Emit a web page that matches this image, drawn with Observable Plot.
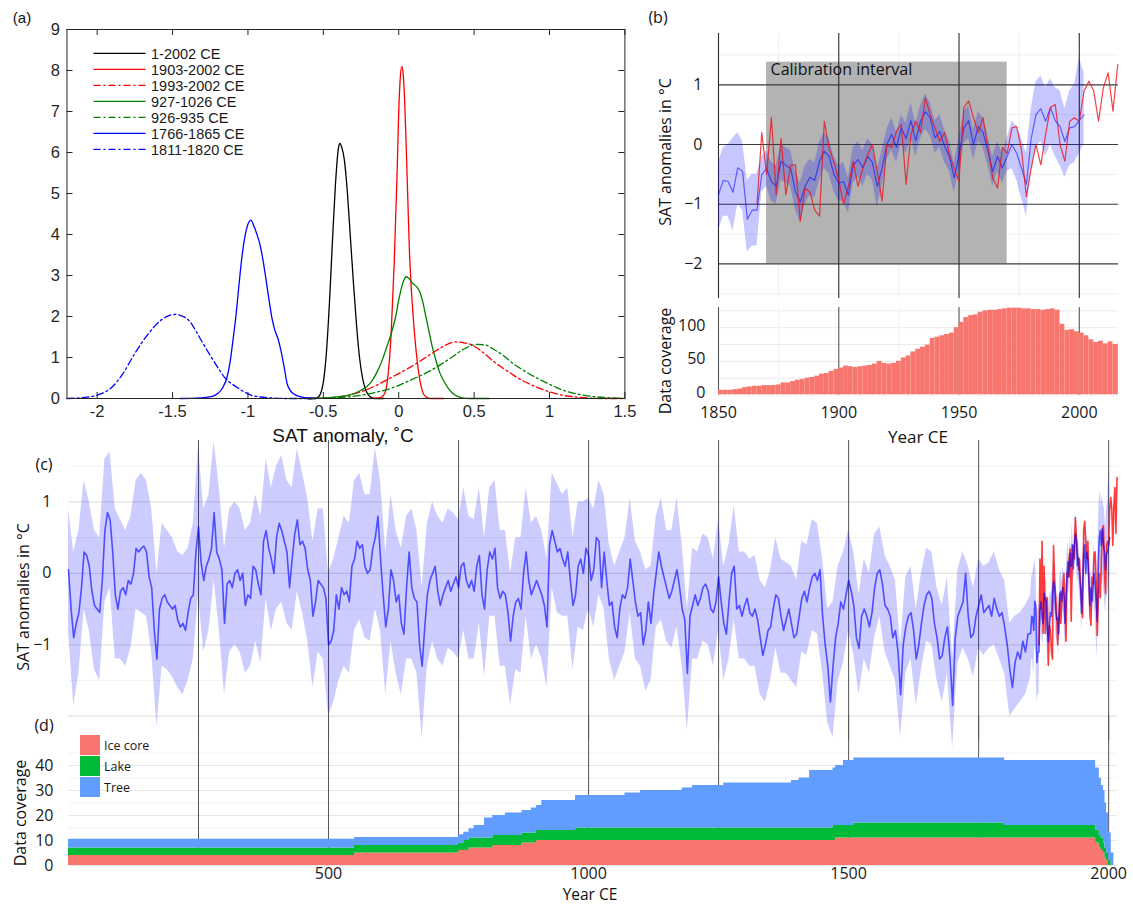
<!DOCTYPE html>
<html><head><meta charset="utf-8">
<script src="https://cdn.jsdelivr.net/npm/d3@7"></script>
<script src="https://cdn.jsdelivr.net/npm/@observablehq/plot@0.6"></script>
<style>
body{margin:0;background:#fff;}
#wrap{position:relative;width:1133px;height:905px;overflow:hidden;background:#fff;}
.lbl{position:absolute;white-space:nowrap;transform:translate(-50%,-50%);font-family:"Open Sans";color:#111;line-height:1;}
.rot{transform:translate(-50%,-50%) rotate(-90deg);}
</style></head><body><div id="wrap"></div>
<script>
// ---------------- Panel (a): density curves ----------------
const aTicksX = [-2, -1.5, -1, -0.5, 0, 0.5, 1, 1.5];
const aTicksY = [0, 1, 2, 3, 4, 5, 6, 7, 8, 9];
const aLabels = ["1-2002 CE", "1903-2002 CE", "1993-2002 CE", "927-1026 CE", "926-935 CE", "1766-1865 CE", "1811-1820 CE"];
const aBlack = [[-0.6,0],[-0.56,0],[-0.53,0.05],[-0.5,0.4],[-0.48,1.1],[-0.46,2.3],[-0.44,3.8],[-0.42,5.2],[-0.40,6.1],[-0.39,6.22],[-0.38,6.15],[-0.36,5.8],[-0.34,5.0],[-0.32,3.9],[-0.30,2.8],[-0.28,1.8],[-0.26,1.0],[-0.24,0.5],[-0.22,0.22],[-0.20,0.08],[-0.18,0.02],[-0.16,0],[-0.1,0]];
const aRed = [[-0.2,0],[-0.12,0.02],[-0.09,0.15],[-0.07,0.6],[-0.05,1.6],[-0.03,3.3],[-0.01,5.6],[0.0,7.0],[0.01,7.8],[0.02,8.1],[0.03,7.9],[0.04,7.2],[0.05,6.1],[0.06,4.9],[0.07,3.7],[0.08,2.9],[0.09,2.3],[0.10,1.8],[0.12,1.0],[0.14,0.45],[0.16,0.15],[0.18,0.04],[0.21,0],[0.3,0]];
const aRedDash = [[-0.6,0],[-0.45,0.02],[-0.33,0.08],[-0.19,0.25],[-0.03,0.55],[0.08,0.77],[0.22,1.1],[0.3,1.28],[0.37,1.38],[0.43,1.36],[0.49,1.3],[0.56,1.12],[0.63,0.9],[0.7,0.72],[0.76,0.57],[0.83,0.42],[0.9,0.3],[0.97,0.2],[1.04,0.12],[1.1,0.07],[1.17,0.04],[1.25,0.015],[1.35,0],[1.5,0]];
const aGreen = [[-0.6,0],[-0.46,0.02],[-0.33,0.08],[-0.25,0.2],[-0.19,0.37],[-0.15,0.6],[-0.11,0.93],[-0.08,1.25],[-0.05,1.58],[-0.02,2.0],[0.0,2.4],[0.03,2.85],[0.05,2.97],[0.07,2.92],[0.09,2.82],[0.12,2.72],[0.14,2.6],[0.16,2.35],[0.18,2.0],[0.2,1.65],[0.22,1.3],[0.245,0.95],[0.27,0.65],[0.3,0.42],[0.33,0.24],[0.36,0.12],[0.39,0.05],[0.43,0.01],[0.47,0],[0.6,0]];
const aGreenDash = [[-0.6,0],[-0.45,0.015],[-0.33,0.04],[-0.19,0.12],[-0.05,0.25],[0.08,0.45],[0.22,0.7],[0.35,1.0],[0.44,1.22],[0.52,1.32],[0.58,1.3],[0.63,1.2],[0.7,1.03],[0.76,0.85],[0.83,0.68],[0.9,0.53],[0.97,0.4],[1.04,0.28],[1.1,0.19],[1.17,0.12],[1.24,0.07],[1.31,0.04],[1.38,0.02],[1.45,0.01],[1.5,0]];
const aBlue = [[-1.45,0],[-1.35,0.01],[-1.28,0.03],[-1.23,0.06],[-1.2,0.12],[-1.17,0.25],[-1.14,0.5],[-1.12,0.85],[-1.1,1.4],[-1.08,2.0],[-1.06,2.75],[-1.04,3.45],[-1.02,3.95],[-1.0,4.25],[-0.98,4.35],[-0.96,4.2],[-0.94,4.0],[-0.92,3.75],[-0.9,3.37],[-0.88,2.9],[-0.86,2.4],[-0.84,1.95],[-0.82,1.65],[-0.8,1.45],[-0.78,1.15],[-0.76,0.77],[-0.74,0.36],[-0.72,0.2],[-0.7,0.12],[-0.66,0.05],[-0.62,0.02],[-0.55,0]];
const aBlueDash = [[-2.2,0],[-2.1,0.02],[-2.0,0.08],[-1.91,0.25],[-1.83,0.6],[-1.75,1.1],[-1.66,1.58],[-1.58,1.9],[-1.52,2.03],[-1.48,2.05],[-1.43,2.0],[-1.39,1.9],[-1.35,1.68],[-1.31,1.42],[-1.27,1.17],[-1.23,0.93],[-1.19,0.7],[-1.15,0.49],[-1.1,0.34],[-1.06,0.24],[-1.02,0.15],[-0.98,0.08],[-0.92,0.04],[-0.87,0.02],[-0.75,0],[-0.55,0]];
const aColors = ["#000000", "#ff0000", "#ff0000", "#008000", "#008000", "#0000ff", "#0000ff"];
const aSolid = [true, true, false, true, false, true, false];

// ---------------- Panel (b) ----------------
const calibration = {start: 1870, end: 1970, bottom: -2, top: 1.38, label: "Calibration interval"};
const bTicksY = [-2, -1, 0, 1];
const bMinorY = [-2.5, -1.5, -0.5, 0.5, 1.5];
const bTicksX = [1850, 1900, 1950, 2000];
const bMinorX = [1875, 1925, 1975];
// blue reconstruction 1850..2002, every 2 years
const bMean = [-0.84,-0.6,-0.62,-0.8,-0.39,-0.45,-1.25,-1.1,-1.1,-0.5,
 -0.4,-0.62,-0.7,-0.28,-0.35,-0.4,-0.79,-0.96,-0.7,-0.55,
 -0.6,-0.28,-0.11,-0.2,-0.5,-0.65,-0.62,-0.85,-0.35,-0.25,
 -0.39,-0.2,-0.3,-0.7,-0.4,0.0,0.17,-0.05,0.28,0.1,
 0.4,0.06,0.39,0.55,0.45,0.11,0.22,-0.03,-0.2,-0.56,
 -0.17,0.28,0.4,0.0,0.3,0.2,-0.1,-0.45,-0.2,-0.39,
 -0.2,0.0,-0.15,-0.4,-0.67,0.1,0.5,0.6,0.39,0.62,
 0.4,0.3,0.05,0.28,0.3,0.4,0.5];
const bUpper = [-0.3,-0.05,0.0,0.1,0.2,0.05,-0.6,-0.5,-0.5,-0.2,
 -0.1,-0.3,-0.35,0.0,-0.05,-0.1,-0.45,-0.65,-0.35,-0.25,
 -0.3,0.05,0.2,0.1,-0.2,-0.35,-0.3,-0.55,-0.05,0.05,
 -0.1,0.1,0.0,-0.4,-0.1,0.25,0.45,0.2,0.5,0.35,
 0.7,0.35,0.65,0.85,0.7,0.4,0.5,0.25,0.05,-0.3,
 0.1,0.55,0.65,0.25,0.55,0.45,0.15,-0.2,0.05,-0.15,
 0.1,0.4,0.3,0.1,-0.15,0.6,1.05,1.15,0.95,1.1,
 0.95,0.9,0.6,0.9,1.0,1.45,1.2];
const bLower = [-1.45,-1.2,-1.2,-1.45,-1.0,-1.1,-1.8,-1.7,-1.7,-0.8,
 -0.7,-0.95,-1.0,-0.6,-0.65,-0.7,-1.1,-1.3,-1.0,-0.85,
 -0.9,-0.6,-0.4,-0.5,-0.8,-0.95,-0.95,-1.15,-0.65,-0.55,
 -0.7,-0.5,-0.6,-1.05,-0.7,-0.25,-0.1,-0.3,0.0,-0.15,
 0.1,-0.2,0.1,0.25,0.15,-0.15,-0.05,-0.3,-0.45,-0.8,
 -0.45,0.0,0.1,-0.25,0.05,-0.05,-0.35,-0.7,-0.45,-0.65,
 -0.45,-0.4,-0.6,-0.9,-1.2,-0.45,-0.05,0.05,-0.2,0.0,
 -0.2,-0.35,-0.55,-0.35,-0.3,-0.15,0.0];
// instrumental (red) 1866..2016, every 2 years
const rVals = [-1.0,0.2,-0.5,0.45,-0.84,0.1,-0.84,-0.35,-0.34,-1.29,
 -0.73,-0.8,-1.1,-1.2,0.39,-0.06,-0.3,-0.6,-1.0,-0.7,
 -0.28,-0.7,-0.4,-0.17,0.0,-0.45,-0.95,0.0,-0.05,0.22,
 0.34,-0.67,0.17,0.39,0.2,0.78,0.5,0.28,0.05,0.2,
 -0.17,-0.4,-0.62,0.62,0.73,0.45,0.2,0.45,-0.05,-0.56,
 -0.73,-0.05,-0.15,0.28,0.3,-0.1,-0.87,-0.4,0.0,-0.34,
 0.17,0.62,0.67,0.0,-0.28,0.39,0.45,0.39,0.9,1.06,
 0.9,0.39,0.95,1.2,0.56,1.34];
// data coverage 1850..2016, every 2 years
const covCount = [7,7,7,8,9,11,12,13,13,14,
 14,14,15,18,18,20,22,23,25,26,
 28,31,32,35,38,40,43,42,41,42,
 43,44,46,50,47,46,47,50,55,58,
 64,68,71,74,84,86,88,90,92,100,
 108,115,118,119,123,125,126,126,127,128,
 129,129,129,128,128,127,127,126,127,128,
 126,105,96,97,94,92,88,82,78,80,
 76,79,75,76];

// ---------------- Panel (c): 0..1845 every 5 years ----------------
const cMean = [0.05,-0.5,-0.9,-0.7,-0.55,-0.2,0.3,0.25,0.1,-0.25,
 -0.45,-0.5,-0.55,-0.1,0.6,0.85,0.75,0.3,-0.3,-0.5,
 -0.25,-0.2,-0.3,-0.1,-0.15,0.0,0.35,0.3,0.35,0.38,
 0.3,-0.05,-0.2,-0.8,-1.2,-0.5,-0.35,-0.3,-0.4,-0.45,
 -0.5,-0.45,-0.65,-0.75,-0.7,-0.8,-0.55,-0.35,-0.3,0.3,
 0.65,0.15,-0.1,0.1,0.2,0.35,0.85,0.3,0.2,0.05,
 -0.7,-0.15,-0.1,-0.2,0.0,0.05,-0.1,0.0,-0.45,-0.3,
 -0.35,0.1,0.05,-0.15,-0.3,0.45,0.6,0.35,0.2,0.0,
 0.5,0.7,0.6,0.45,0.3,-0.2,0.2,0.55,0.75,0.4,
 0.45,0.35,0.05,-0.1,-0.6,-0.4,-0.1,-0.15,-0.2,-0.35,
 -1.0,-0.95,-0.8,-0.3,-0.5,-0.2,-0.3,-0.25,-0.4,0.1,
 0.2,0.45,0.35,0.4,0.1,0.0,0.05,0.35,0.5,0.8,
 0.2,-0.3,-0.75,-0.5,0.05,-0.1,-0.4,-0.3,-0.7,-0.85,
 -0.2,0.3,-0.2,-0.35,-0.4,-1.0,-1.3,-0.75,-0.3,-0.1,
 0.0,0.1,-0.25,-0.45,-0.3,-0.2,-0.1,-0.25,-0.15,-0.05,
 -0.2,0.1,0.15,-0.1,-0.2,-0.1,-0.25,0.1,0.25,-0.3,
 -0.5,0.05,0.3,0.2,0.35,-0.2,-0.35,-0.25,-0.3,-0.55,
 -0.95,-0.6,-0.4,-0.35,-0.5,0.0,0.3,-0.1,-0.3,-0.2,
 -0.1,-0.2,-0.3,-0.45,-0.75,0.4,0.6,0.45,0.3,0.35,
 0.2,0.1,0.3,-0.1,-0.45,-0.3,0.1,0.2,0.0,0.35,
 0.25,-0.1,0.05,0.5,0.45,-0.2,0.3,-0.1,-0.45,-0.4,
 -0.75,-0.9,-0.5,-0.3,-0.35,-0.2,0.2,-0.1,-0.4,-0.6,
 -0.55,-1.0,-0.8,-0.4,-0.7,-0.3,0.0,0.3,0.1,-0.05,
 -0.2,-0.35,-0.25,-0.1,0.05,-0.2,-0.5,-0.65,-1.4,-0.6,
 -0.45,-0.3,-0.45,-0.35,-0.2,-0.15,-0.25,-0.5,-0.55,-0.4,
 -0.05,-0.4,-0.7,-0.85,-0.4,0.0,0.1,-0.5,-0.45,-0.6,
 -0.45,-0.35,-0.55,-0.6,-0.5,-0.65,-0.9,-1.15,-1.0,-0.8,
 -0.75,-0.5,-0.3,-0.35,-0.6,-0.8,-0.65,-0.5,-0.7,-0.9,
 -0.85,-0.6,-0.35,-0.25,-0.4,-0.2,-0.05,0.0,-0.1,0.05,
 -0.6,-1.0,-1.3,-1.8,-1.3,-0.9,-0.7,-0.4,-0.5,-0.3,
 -0.1,-0.25,-0.45,-0.9,-1.05,-0.6,-0.5,-0.6,-0.75,-0.55,
 -0.2,0.0,0.05,-0.15,-0.45,-0.5,-0.6,-0.9,-0.8,-1.1,
 -1.7,-1.0,-0.75,-0.6,-0.55,-0.8,-1.2,-1.0,-0.7,-0.45,
 -0.3,-0.25,-0.35,-0.7,-0.9,-1.2,-1.15,-0.9,-0.75,-1.2,
 -1.85,-0.9,-0.6,-0.5,-0.4,0.0,-0.6,-0.9,-0.85,-0.6,
 -0.45,-0.3,-0.55,-0.5,-0.45,-0.6,-0.35,-0.5,-0.6,-0.55,
 -0.75,-1.0,-1.35,-1.6,-1.25,-1.1,-1.2,-0.95,-1.1,-0.85];
// uncertainty band 0..1840 every 10 years
const cUpper = [0.9,0.3,0.6,1.3,1.0,0.6,0.5,1.6,1.7,0.9,
 0.75,0.6,0.8,1.3,1.4,1.3,0.9,0.0,0.7,0.6,
 0.5,0.3,0.25,0.35,0.7,1.8,0.9,1.1,1.85,1.2,
 0.35,0.9,1.0,0.9,0.6,0.7,1.1,0.8,1.6,1.2,
 1.5,1.65,1.3,1.2,1.75,1.4,1.05,0.45,0.9,0.9,
 0.0,0.2,0.5,0.8,0.7,1.3,1.4,1.1,1.1,1.75,
 1.3,0.3,1.1,0.6,0.35,0.8,0.9,0.6,-0.2,0.7,
 1.0,0.8,0.7,0.9,0.85,0.75,1.2,0.8,0.75,1.2,
 0.5,1.2,1.3,0.6,0.6,0.0,0.5,0.5,1.2,0.7,
 0.8,0.6,0.2,1.4,1.25,1.1,1.2,0.5,1.0,1.0,
 1.05,0.9,1.3,1.1,0.4,0.1,0.3,0.5,1.05,0.45,
 0.3,0.05,0.1,0.8,1.05,0.6,0.6,1.05,0.4,-0.5,
 0.35,0.3,0.55,0.5,0.2,0.75,0.1,0.4,0.95,0.3,
 0.3,0.2,0.25,-0.1,-0.2,0.05,0.5,0.2,0.15,0.1,
 -0.1,0.45,0.4,0.75,0.7,0.2,-0.5,-0.4,0.1,0.3,
 0.6,0.3,-0.3,0.2,0.0,0.55,0.65,0.25,0.1,-0.1,
 -1.0,-0.05,0.1,-0.5,0.0,0.35,0.3,-0.2,-0.45,-0.05,
 -1.2,0.05,0.3,0.1,-0.2,0.2,0.1,0.15,0.3,0.05,
 -0.1,-0.7,-0.6,-0.55,-0.45];
const cLower = [-0.8,-1.85,-1.4,-0.5,-0.8,-1.35,-1.5,-0.4,-0.2,-1.2,
 -1.2,-1.3,-1.05,-0.5,-0.55,-0.6,-1.1,-2.15,-1.3,-1.35,
 -1.45,-1.6,-1.7,-1.5,-1.2,-0.3,-1.1,-0.8,-0.1,-0.8,
 -1.7,-1.1,-1.0,-1.1,-1.4,-1.3,-0.95,-1.25,-0.35,-0.8,
 -0.5,-0.4,-0.7,-0.8,-0.25,-0.55,-0.95,-1.6,-1.1,-1.2,
 -2.0,-1.8,-1.5,-1.3,-1.4,-0.8,-0.65,-0.9,-0.95,-0.5,
 -0.8,-1.7,-0.95,-1.4,-1.7,-1.2,-1.2,-1.4,-2.3,-1.3,
 -0.95,-1.2,-1.3,-1.05,-1.1,-1.2,-0.8,-1.2,-1.2,-0.7,
 -1.45,-0.6,-0.6,-1.3,-1.3,-1.85,-1.35,-1.4,-0.6,-1.2,
 -1.0,-1.2,-1.6,-0.2,-0.55,-0.6,-0.6,-1.35,-0.75,-0.8,
 -0.5,-0.75,-0.3,-0.5,-1.2,-1.5,-1.3,-1.1,-0.55,-1.2,
 -1.3,-1.65,-1.5,-0.75,-0.65,-0.95,-1.05,-0.75,-1.3,-2.2,
 -1.2,-1.2,-0.95,-1.0,-1.3,-0.8,-1.5,-1.2,-0.65,-1.2,
 -1.2,-1.3,-1.3,-1.7,-1.8,-1.5,-1.05,-1.4,-1.4,-1.5,
 -1.6,-1.1,-1.15,-0.8,-0.85,-1.4,-2.1,-2.3,-1.5,-1.25,
 -0.8,-1.15,-1.7,-1.2,-1.4,-0.9,-0.6,-1.1,-1.3,-1.5,
 -2.3,-1.4,-1.2,-1.85,-1.35,-0.95,-1.0,-1.5,-1.8,-1.4,
 -2.45,-1.25,-1.05,-1.2,-1.45,-1.05,-1.15,-1.05,-1.0,-1.2,
 -1.4,-2.0,-1.9,-1.8,-1.7];
const cTicksY = [-1, 0, 1];
const cMajorY = [-2, -1, 0, 1];
const cMinorY = [-1.5, -0.5, 0.5, 1.5];
const cRules = [250, 500, 750, 1000, 1250, 1500, 1750, 2000];

// ---------------- Panel (d): stacked data coverage ----------------
const dTypes = ["Ice core", "Lake", "Tree"];
const dColors = ["#f8766d", "#00ba38", "#619cff"];
const dYears = [0,550,750,760,770,780,800,816,840,872,890,900,910,975,1070,1100,1180,1200,1260,1390,1405,1425,1470,1475,1490,1510,1800,1975,1982,1986,1990,1993,1996,2000,2005,2010];
const dIce  = [4,5,6,6,7,7,7,8,8,9,9,10,10,10,10,10,10,10,10,10,10,10,10,11,11,11,11,9,7,6,5,3,2,0,0,0];
const dLake = [3,3,3,4,4,4,4,4,4,4,4,4,4,5,5,5,5,5,5,5,5,5,6,5,5,6,5,5,5,5,4,4,3,2,0,0];
const dTree = [3.5,3.2,3.3,3.3,3.7,5,8,8,9,9,10,10,12,13,14,15,16,17,18,19,20,23,23,24,26,26,26,25,23,21,21,18,16,11,5,0];
const dTicksY = [0, 10, 20, 30, 40];
const dMinorY = [5, 15, 25, 35, 45];
const dTicksX = [500, 1000, 1500, 2000];

// ================= drawing =================
const wrap = document.getElementById("wrap");
const fmtMinus = d => d < 0 ? "\u2212" + Math.abs(d) : String(d);
function place(el, left, top) {
  el.style.position = "absolute"; el.style.left = left + "px"; el.style.top = top + "px";
  wrap.appendChild(el);
}
function label(text, x, y, size, opts = {}) {
  const d = document.createElement("div");
  d.className = "lbl" + (opts.rot ? " rot" : "");
  d.textContent = text;
  d.style.left = x + "px"; d.style.top = y + "px"; d.style.fontSize = size + "px";
  if (opts.font) d.style.fontFamily = opts.font;
  wrap.appendChild(d);
}
const baseStyle = (font, size) => ({fontFamily: font, fontSize: size + "px", color: "#1a1a1a", background: "transparent", overflow: "visible"});

// ---- (a)
const aW = 640, aH = 450, aML = 66.5, aMR = 15.6, aMT = 29, aMB = 52;
const aIW = aW - aML - aMR, aIH = aH - aMT - aMB;
const aCurves = [aBlack, aRed, aRedDash, aGreen, aGreenDash, aBlue, aBlueDash];
const dashDot = "7,3,2,3";
const svgA = Plot.plot({
  width: aW, height: aH, marginLeft: aML, marginRight: aMR, marginTop: aMT, marginBottom: aMB,
  x: {domain: [-2.2, 1.5]}, y: {domain: [0, 9]},
  style: baseStyle("Liberation Sans", 16),
  marks: [
    ...aCurves.map((pts, i) => Plot.line(pts, {x: d => d[0], y: d => d[1], stroke: aColors[i], strokeWidth: 1.3, curve: "monotone-x", ...(aSolid[i] ? {} : {strokeDasharray: dashDot})})),
    Plot.frame({stroke: "#262626"}),
    Plot.ruleX(aTicksX, {x: d => d, insetTop: aIH - 6, stroke: "#262626"}),
    Plot.ruleX(aTicksX, {x: d => d, insetBottom: aIH - 6, stroke: "#262626"}),
    Plot.ruleY(aTicksY, {y: d => d, insetRight: aIW - 6, stroke: "#262626"}),
    Plot.ruleY(aTicksY, {y: d => d, insetLeft: aIW - 6, stroke: "#262626"}),
    Plot.axisX(aTicksX, {tickSize: 0, tickPadding: 7, label: null, tickFormat: d => String(d), fontSize: 16.5, fill: "#262626"}),
    Plot.axisY(aTicksY, {tickSize: 0, tickPadding: 7, label: null, fontSize: 16.5, fill: "#262626"})
  ]
});
const lg = d3.select(svgA).append("g").attr("font-family", "Liberation Sans").attr("font-size", 14.5).attr("text-anchor", "start");
aCurves.forEach((pts, i) => {
  const y = 53.3 + i * 16;
  lg.append("line").attr("x1", 93.5).attr("x2", 145.5).attr("y1", y).attr("y2", y)
    .attr("stroke", aColors[i]).attr("stroke-width", 1.3).attr("stroke-dasharray", aSolid[i] ? null : dashDot);
  lg.append("text").attr("x", 151).attr("y", y).attr("dy", "0.36em").attr("text-anchor", "start").attr("fill", "#1a1a1a").text(aLabels[i]);
});
place(svgA, 0, 0);

// ---- (b) top
const bYears = d3.range(1850, 2003, 2);
const rYears = d3.range(1866, 2017, 2);
const covYears = d3.range(1850, 2017, 2);
const bIdx = d3.range(bYears.length), rIdx = d3.range(rYears.length);
const svgB = Plot.plot({
  width: 493, height: 300, marginLeft: 78, marginRight: 15, marginTop: 33, marginBottom: 2,
  x: {domain: [1850, 2016.3], axis: null}, y: {domain: [-2.58, 1.86]},
  style: baseStyle("Open Sans", 16),
  marks: [
    Plot.ruleY(bMinorY, {y: d => d, stroke: "#eeeeee"}),
    Plot.ruleX(bMinorX, {x: d => d, stroke: "#eeeeee"}),
    Plot.rect([calibration], {x1: "start", x2: "end", y1: "bottom", y2: "top", fill: "#b3b3b3"}),
    Plot.ruleY(bTicksY, {y: d => d, stroke: "#3a3a3a", strokeWidth: 1.1}),
    Plot.ruleX(bTicksX, {x: d => d, stroke: "#2a2a2a", strokeWidth: 1.1}),
    Plot.areaY(bIdx, {x: i => bYears[i], y1: i => bLower[i], y2: i => bUpper[i], fill: "#0000ff", fillOpacity: 0.22}),
    Plot.line(bIdx, {x: i => bYears[i], y: i => bMean[i], stroke: "#0000ff", strokeOpacity: 0.55, strokeWidth: 1.2}),
    Plot.line(rIdx, {x: i => rYears[i], y: i => rVals[i], stroke: "#e8141c", strokeOpacity: 0.8, strokeWidth: 1.2}),
    Plot.text([calibration], {x: "start", y: "top", text: "label", textAnchor: "start", lineAnchor: "top", dx: 4, dy: 1, fontSize: 16, fill: "#111"}),
    Plot.axisY(bTicksY, {tickSize: 0, tickPadding: 16, label: null, tickFormat: fmtMinus, fontSize: 16, fill: "#1a1a1a"})
  ]
});
place(svgB, 640, 0);

// ---- (b) bottom
const covIdx = d3.range(covYears.length);
const svgB2 = Plot.plot({
  width: 493, height: 145, marginLeft: 78, marginRight: 15, marginTop: 7, marginBottom: 50.5,
  x: {domain: [1850, 2016.3]}, y: {domain: [0, 130]},
  style: baseStyle("Open Sans", 16),
  marks: [
    Plot.ruleY([0, 25, 50, 75, 100, 125], {y: d => d, stroke: "#ebebeb"}),
    Plot.ruleX(bMinorX, {x: d => d, stroke: "#f0f0f0"}),
    Plot.ruleX(bTicksX, {x: d => d, stroke: "#555", strokeWidth: 1.1}),
    Plot.rectY(covIdx, {x1: i => covYears[i], x2: i => covYears[i] + 2, y: i => covCount[i], fill: "#f8766d", clip: true}),
    Plot.axisY([0, 50, 100], {tickSize: 0, tickPadding: 13, label: null, fontSize: 16, fill: "#1a1a1a", dy: -2}),
    Plot.axisX(bTicksX, {tickSize: 0, tickPadding: 12, label: null, tickFormat: d => String(d), fontSize: 16, fill: "#1a1a1a"})
  ]
});
place(svgB2, 640, 300);

// ---- (c)
const cYears = d3.range(0, 1850, 5);
const cBandYears = d3.range(0, 1850, 10);
const cMeanPts = cYears.map((y, i) => [y, cMean[i]]).concat(bYears.map((y, i) => [y, bMean[i]]));
const cBandPts = cBandYears.map((y, i) => [y, cLower[i], cUpper[i]]).concat(bYears.map((y, i) => [y, bLower[i], bUpper[i]]));
const svgC = Plot.plot({
  width: 1133, height: 300, marginLeft: 68, marginRight: 16, marginTop: 0, marginBottom: 0,
  x: {domain: [0, 2017], axis: null}, y: {domain: [-2.34, 1.86]},
  style: baseStyle("Open Sans", 15),
  marks: [
    Plot.ruleY(cMinorY, {y: d => d, stroke: "#f3f3f3"}),
    Plot.ruleY(cMajorY, {y: d => d, stroke: "#e2e2e2", strokeWidth: 1.2}),
    Plot.ruleX(cRules, {x: d => d, stroke: "#555", strokeWidth: 1}),
    Plot.areaY(cBandPts, {x: d => d[0], y1: d => d[1], y2: d => d[2], fill: "#0000ff", fillOpacity: 0.2}),
    Plot.line(rIdx, {x: i => rYears[i], y: i => rVals[i], stroke: "#ff1a1a", strokeOpacity: 0.85, strokeWidth: 1.6}),
    Plot.line(cMeanPts, {x: d => d[0], y: d => d[1], stroke: "#0000ff", strokeOpacity: 0.62, strokeWidth: 1.6}),
    Plot.axisY(cTicksY, {tickSize: 0, tickPadding: 17, label: null, tickFormat: fmtMinus, fontSize: 16, fill: "#1a1a1a"})
  ]
});
place(svgC, 0, 440);

// ---- (d)
const dRows = dYears.flatMap((yr, i) => [
  {year: yr, type: dTypes[0], n: dIce[i]},
  {year: yr, type: dTypes[1], n: dLake[i]},
  {year: yr, type: dTypes[2], n: dTree[i]}
]);
const svgD = Plot.plot({
  width: 1133, height: 190, marginLeft: 68, marginRight: 16, marginTop: 0, marginBottom: 40,
  x: {domain: [0, 2017]}, y: {domain: [0, 60]},
  color: {domain: dTypes, range: dColors},
  style: baseStyle("Open Sans", 15),
  marks: [
    Plot.ruleY(dMinorY, {y: d => d, stroke: "#f3f3f3"}),
    Plot.ruleY(dTicksY, {y: d => d, stroke: "#e6e6e6", strokeWidth: 1.2}),
    Plot.ruleX(cRules, {x: d => d, stroke: "#555", strokeWidth: 1}),
    Plot.areaY(dRows, {x: "year", y: "n", fill: "type", curve: "step-after"}),
    Plot.axisY(dTicksY, {tickSize: 0, tickPadding: 15, label: null, fontSize: 16, fill: "#1a1a1a"}),
    Plot.axisX(dTicksX, {tickSize: 0, tickPadding: 2, label: null, tickFormat: d => String(d), fontSize: 16, fill: "#1a1a1a"})
  ]
});
const dl = d3.select(svgD).append("g").attr("font-family", "Open Sans").attr("font-size", 12.5).attr("text-anchor", "start");
dTypes.forEach((t, i) => {
  const y = 20 + i * 21;
  dl.append("rect").attr("x", 80).attr("y", y).attr("width", 20).attr("height", 20).attr("fill", dColors[i]);
  dl.append("text").attr("x", 104).attr("y", y + 10).attr("dy", "0.36em").attr("text-anchor", "start").attr("fill", "#1a1a1a").text(t);
});
place(svgD, 0, 715);

// ---- titles / panel labels
label("(a)", 22, 17, 15, {font: "Liberation Sans"});
label("SAT anomaly, \u02DAC", 343, 435, 19, {font: "Liberation Sans"});
label("(b)", 658, 17, 16);
label("SAT anomalies in \u00B0C", 665, 152, 16, {rot: true});
label("Data coverage", 665, 361, 16, {rot: true});
label("Year CE", 918, 436, 17);
label("(c)", 44, 464, 16);
label("SAT anomalies in \u00B0C", 23, 597, 16, {rot: true});
label("(d)", 44, 725, 16);
label("Data coverage", 20, 813, 16, {rot: true});
label("Year CE", 590, 894.5, 15.5);
</script>
</body></html>
